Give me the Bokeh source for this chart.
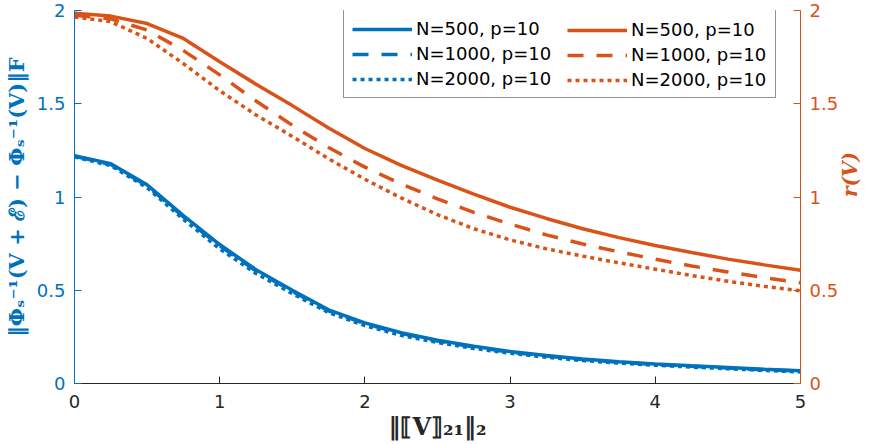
import math
from bokeh.plotting import figure
from bokeh.models import (Range1d, LinearAxis, FixedTicker, Legend, LegendItem)
from bokeh.embed import file_html
from bokeh.resources import INLINE

# ---------------- data ----------------
x_vals = [0.0, 0.25, 0.5, 0.75, 1.0, 1.25, 1.5, 1.75, 2.0, 2.25, 2.5,
          2.75, 3.0, 3.25, 3.5, 3.75, 4.0, 4.25, 4.5, 4.75, 5.0]

err_N500 = [1.222, 1.178, 1.065, 0.90, 0.745, 0.61, 0.50, 0.395, 0.325, 0.272, 0.232,
            0.20, 0.172, 0.15, 0.131, 0.117, 0.105, 0.095, 0.086, 0.077, 0.069]
err_N1000 = [1.218, 1.174, 1.06, 0.893, 0.738, 0.603, 0.494, 0.39, 0.32, 0.268, 0.228,
             0.196, 0.168, 0.147, 0.128, 0.114, 0.102, 0.092, 0.083, 0.074, 0.066]
err_N2000 = [1.215, 1.168, 1.05, 0.88, 0.722, 0.59, 0.482, 0.38, 0.31, 0.258, 0.22,
             0.188, 0.162, 0.141, 0.123, 0.109, 0.098, 0.088, 0.079, 0.07, 0.062]

r_N500 = [1.985, 1.97, 1.93, 1.85, 1.725, 1.605, 1.49, 1.37, 1.26, 1.17, 1.09,
          1.015, 0.945, 0.885, 0.83, 0.782, 0.74, 0.702, 0.667, 0.636, 0.607]
r_N1000 = [1.975, 1.955, 1.895, 1.785, 1.655, 1.515, 1.385, 1.265, 1.16, 1.07, 0.99,
           0.917, 0.855, 0.797, 0.748, 0.706, 0.667, 0.63, 0.598, 0.568, 0.54]
r_N2000 = [1.965, 1.94, 1.85, 1.715, 1.57, 1.44, 1.325, 1.205, 1.095, 0.995, 0.905,
           0.83, 0.77, 0.722, 0.683, 0.647, 0.613, 0.579, 0.548, 0.521, 0.497]

series_labels = ["N=500, p=10", "N=1000, p=10", "N=2000, p=10"]
x_ticks = [0, 1, 2, 3, 4, 5]
y_ticks = [0, 0.5, 1, 1.5, 2]

x_label = "‖⟦V⟧₂₁‖₂"
y_left_label = "‖Φₛ⁻¹(V + ℰ) − Φₛ⁻¹(V)‖F"
y_right_label = "r(V)"

# ---------------- style ----------------
BLUE = "#0072BD"
ORANGE = "#D95319"
DARK = "#262626"
FONT = "DejaVu Sans"
SERIF = "DejaVu Serif"
dashes = ["solid", "16 13", "4 4"]
LW = 3.5

p = figure(width=876, height=444, output_backend="svg", toolbar_location=None,
           x_range=Range1d(0, 5), y_range=Range1d(0, 2),
           min_border_left=72, min_border_right=71, min_border_top=10,
           min_border_bottom=61)
p.extra_y_ranges = {"r": Range1d(0, 2)}
p.outline_line_color = None
p.xgrid.visible = False
p.ygrid.visible = False
p.background_fill_color = "white"
p.border_fill_color = "white"

blue_r = []
for ys, d in zip([err_N500, err_N1000, err_N2000], dashes):
    blue_r.append(p.line(x_vals, ys, line_color=BLUE, line_width=LW, line_dash=d))
orange_r = []
for ys, d in zip([r_N500, r_N1000, r_N2000], dashes):
    orange_r.append(p.line(x_vals, ys, line_color=ORANGE, line_width=LW, line_dash=d,
                           y_range_name="r"))

# axes
xa = p.xaxis[0]
xa.ticker = FixedTicker(ticks=x_ticks)
xa.axis_label = x_label
xa.axis_line_color = DARK
xa.major_tick_line_color = DARK
xa.major_tick_in = 7
xa.major_tick_out = 0
xa.minor_tick_line_color = None
xa.major_label_text_color = DARK
xa.major_label_text_font = FONT
xa.major_label_text_font_size = "18px"
xa.major_label_standoff = 11
xa.axis_label_text_font = SERIF
xa.axis_label_text_font_style = "bold"
xa.axis_label_text_font_size = "24px"
xa.axis_label_text_color = DARK
xa.axis_label_standoff = 1

ya = p.yaxis[0]
ya.ticker = FixedTicker(ticks=y_ticks)
ya.axis_label = y_left_label
ya.axis_line_color = BLUE
ya.major_tick_line_color = BLUE
ya.major_tick_in = 7
ya.major_tick_out = 0
ya.minor_tick_line_color = None
ya.major_label_text_color = BLUE
ya.major_label_text_font = FONT
ya.major_label_text_font_size = "18px"
ya.major_label_standoff = 9
ya.axis_label_text_font = SERIF
ya.axis_label_text_font_style = "bold"
ya.axis_label_text_font_size = "21px"
ya.axis_label_text_color = BLUE
ya.axis_label_standoff = 5

# right axis: line, ticks and tick labels
ra = LinearAxis(y_range_name="r", ticker=FixedTicker(ticks=y_ticks))
ra.axis_line_color = ORANGE
ra.major_tick_line_color = ORANGE
ra.major_tick_in = 7
ra.major_tick_out = 0
ra.minor_tick_line_color = None
ra.major_label_text_color = ORANGE
ra.major_label_text_font = FONT
ra.major_label_text_font_size = "18px"
ra.major_label_standoff = 9
p.add_layout(ra, "right")

# outer right axis carrying only the title (bottom-to-top reading)
ra2 = LinearAxis(y_range_name="r", ticker=FixedTicker(ticks=[]), bounds=(0, 1.76))
ra2.axis_line_color = None
ra2.major_tick_line_color = None
ra2.minor_tick_line_color = None
ra2.major_tick_in = 0
ra2.major_tick_out = 0
ra2.major_label_standoff = 0
ra2.axis_label = y_right_label
ra2.axis_label_text_font = SERIF
ra2.axis_label_text_font_style = "bold italic"
ra2.axis_label_text_font_size = "20px"
ra2.axis_label_text_color = ORANGE
ra2.axis_label_standoff = 8
ra2.axis_label_orientation = math.pi / 2
p.add_layout(ra2, "right")

# legends: left box (with border) holds blue items, right legend overlays orange items
leg_common = dict(glyph_width=60, glyph_height=20, label_height=20, spacing=4,
                  padding=8, label_standoff=4, label_text_font=FONT,
                  label_text_font_size="18px", label_text_color="black",
                  margin=0)
legA = Legend(items=[LegendItem(label=l, renderers=[r]) for l, r in zip(series_labels, blue_r)],
              location=(269, 285), border_line_color=DARK, border_line_width=1,
              background_fill_color="white", background_fill_alpha=1.0,
              label_width=351, **leg_common)
legB = Legend(items=[LegendItem(label=l, renderers=[r]) for l, r in zip(series_labels, orange_r)],
              location=(485, 285), border_line_color="white", border_line_alpha=0.0,
              background_fill_alpha=0.0, label_width=100, **leg_common)
p.add_layout(legA, "center")
p.add_layout(legB, "center")

open("out.html", "w").write(file_html(p, INLINE))
